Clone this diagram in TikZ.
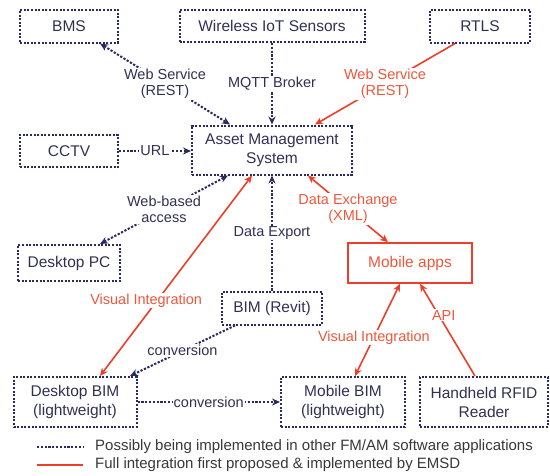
\documentclass[tikz,border=0pt]{standalone}
\usepackage{fontspec}
\setmainfont{Liberation Sans}
\usetikzlibrary{arrows.meta}

\definecolor{azul}{RGB}{42,42,98}
\definecolor{azultexto}{RGB}{48,48,84}
\definecolor{rojo}{RGB}{238,62,42}
\definecolor{rojotexto}{RGB}{236,88,60}

\tikzset{
  caja/.style={draw=azul, line width=2pt, dash pattern=on 2pt off 1.6pt,
    text=azultexto, font=\fontsize{15.5}{19}\selectfont, align=center, inner sep=2pt},
  cajaroja/.style={draw=rojo, line width=1.5pt, text=rojotexto,
    font=\fontsize{15.5}{19}\selectfont, align=center, inner sep=2pt},
  punteada/.style={azul, line width=2pt, dash pattern=on 2.2pt off 1.6pt},
  roja/.style={rojo, line width=1.6pt},
  etq/.style={font=\fontsize{14.5}{16}\selectfont, fill=white, inner sep=1pt,
    align=center, text=azultexto},
  etqroja/.style={etq, text=rojotexto},
  leyenda/.style={font=\fontsize{15}{16}\selectfont, text=black!78, anchor=west, inner sep=0pt}
}

\begin{document}
\begin{tikzpicture}[x=1pt, y=-1pt, >={Stealth[length=8pt,width=7pt]}]
  \useasboundingbox (0,0) rectangle (550,475);

  % Sistemas
  \node[caja, minimum width=98pt, minimum height=33pt] (bms) at (69,26) {BMS};
  \node[caja, minimum width=185pt, minimum height=32pt] (iot) at (272,26) {Wireless IoT Sensors};
  \node[caja, minimum width=100pt, minimum height=33pt] (rtls) at (480,26) {RTLS};
  \node[caja, minimum width=98pt, minimum height=32pt] (cctv) at (69,151) {CCTV};
  \node[caja, minimum width=160pt, minimum height=49pt] (ams) at (272,150) {Asset Management\\System};
  \node[caja, minimum width=102pt, minimum height=36pt] (pc) at (69,263) {Desktop PC};
  \node[cajaroja, minimum width=124pt, minimum height=40pt] (apps) at (410,263) {Mobile apps};
  \node[caja, minimum width=100pt, minimum height=33pt] (revit) at (272,308) {BIM (Revit)};
  \node[caja, minimum width=123pt, minimum height=50pt] (dbim) at (75,402) {Desktop BIM\\(lightweight)};
  \node[caja, minimum width=124pt, minimum height=50pt] (mbim) at (343,402) {Mobile BIM\\(lightweight)};
  \node[caja, minimum width=128pt, minimum height=50pt] (rfid) at (484,402) {Handheld RFID\\Reader};

  % Enlaces punteados
  \draw[punteada, <->] ([xshift=31pt]bms.south) -- node[etq]{Web Service\\(REST)} ([xshift=-42pt]ams.north);
  \draw[punteada, ->] (iot) -- node[etq]{MQTT Broker} (ams);
  \draw[punteada, ->] (cctv.east) -- node[etq]{URL} (cctv.east -| ams.west);
  \draw[punteada, <->] ([xshift=31pt]pc.north) -- node[etq]{Web-based\\access} ([xshift=-44pt]ams.south);
  \draw[punteada, ->] (revit) -- node[etq]{Data Export} (ams);
  \draw[punteada, ->] ([xshift=-37pt]revit.south) -- node[etq]{conversion} ([xshift=55pt]dbim.north);
  \draw[punteada, ->] (dbim) -- node[etq]{conversion} (mbim);

  % Enlaces rojos
  \draw[roja, ->] ([xshift=-25pt]rtls.south) -- node[etqroja]{Web Service\\(REST)} ([xshift=43pt]ams.north);
  \draw[roja, <->] ([xshift=25pt]dbim.north) -- node[etqroja, pos=0.376, xshift=-11pt]{Visual Integration} ([xshift=-20pt]ams.south);
  \draw[roja, <->] ([xshift=36pt]ams.south) -- node[etqroja]{Data Exchange\\(XML)} ([xshift=-22pt]apps.north);
  \draw[roja, <->] ([xshift=12pt]mbim.north) -- node[etqroja, pos=0.42]{Visual Integration} ([xshift=-10pt]apps.south);
  \draw[roja, ->] ([xshift=-9pt]rfid.north) -- node[etqroja, pos=0.66, xshift=5pt]{API} ([xshift=10pt]apps.south);

  % Leyenda
  \coordinate (l1a) at (37,447);
  \coordinate (l1b) at (83,447);
  \coordinate (l2a) at (37,465);
  \coordinate (l2b) at (83,465);
  \draw[punteada] (l1a) -- (l1b);
  \draw[roja] (l2a) -- (l2b);
  \node[leyenda] (ley1) at (95,447) {Possibly being implemented in other FM/AM software applications};
  \node[leyenda] (ley2) at (95,465) {Full integration first proposed \& implemented by EMSD};
\end{tikzpicture}
\end{document}
